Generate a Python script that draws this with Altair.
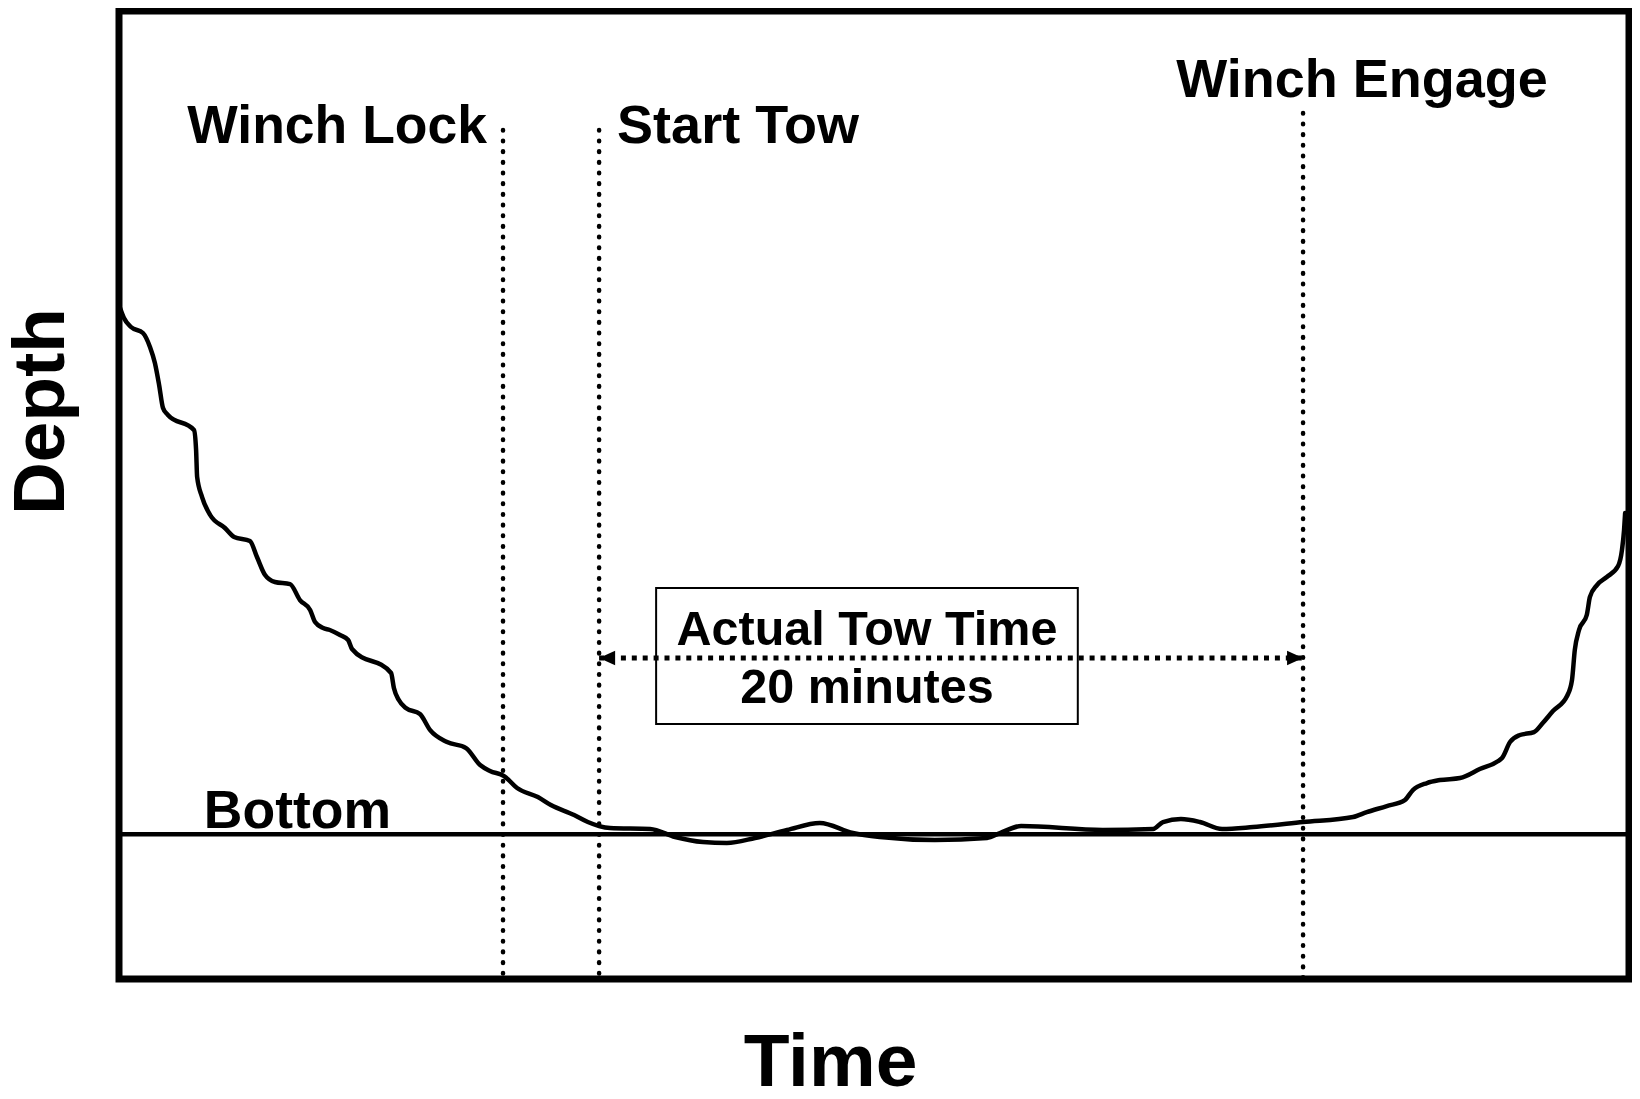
import altair as alt
import pandas as pd

# ---------------- data (time in minutes, depth in arbitrary units; bottom = 100) ----------------
CURVE_TIME = [0.03, 0.14, 0.34, 0.68, 0.88, 1.02, 1.14, 1.25, 1.39, 2.13, 2.19, 2.22, 2.36, 2.59,
              3.01, 3.27, 3.72, 3.92, 4.15, 4.43, 4.86, 5.14, 5.43, 5.57, 5.80, 5.99, 6.28, 6.51,
              6.62, 7.73, 7.81, 7.95, 8.15, 8.55, 8.84, 9.32, 9.86, 10.26, 10.54, 10.94, 11.31,
              11.90, 12.27, 12.93, 13.32, 13.64, 13.95, 15.09, 15.80, 16.59, 17.27, 18.07, 18.98,
              19.91, 20.85, 21.62, 23.18, 24.66, 25.03, 25.63, 27.95, 29.38, 29.66, 30.17, 30.71,
              31.34, 32.22, 33.64, 35.06, 35.45, 36.02, 36.53, 36.76, 37.16, 37.53, 38.10, 38.66,
              39.29, 39.52, 39.80, 40.20, 40.45, 40.74, 41.14, 41.28, 41.36, 41.48, 41.70, 41.79,
              41.99, 42.27, 42.59, 42.70, 42.76, 42.79]
CURVE_DEPTH = [36.08, 37.30, 38.39, 39.12, 40.82, 42.77, 45.44, 48.23, 49.08, 50.91, 53.33, 56.62,
               59.05, 61.23, 62.81, 63.90, 64.39, 66.33, 68.52, 69.37, 69.62, 71.56, 72.77, 74.23,
               74.96, 75.20, 75.81, 76.42, 77.51, 80.43, 82.25, 83.71, 84.68, 85.41, 87.36, 88.81,
               89.54, 91.61, 92.33, 92.94, 94.40, 95.49, 96.46, 97.68, 98.53, 99.02, 99.26, 99.38,
               100.35, 100.96, 101.08, 100.47, 99.50, 98.65, 99.87, 100.35, 100.72, 100.47, 99.87,
               99.02, 99.50, 99.38, 98.53, 98.17, 98.53, 99.38, 99.14, 98.53, 97.92, 97.32, 96.59,
               95.86, 94.64, 93.79, 93.43, 93.19, 92.09, 90.76, 88.81, 87.96, 87.60, 86.50, 85.05,
               83.22, 81.28, 77.63, 75.20, 73.38, 71.19, 69.74, 68.76, 67.43, 65.48, 63.05, 60.99]

EVENT_NAMES = ["Winch Lock", "Start Tow", "Winch Engage"]
EVENT_TIMES = [10.91, 13.64, 33.64]
EVENT_LINE_TOP = [14.46, 14.46, 12.39]
EVENT_LABEL_DEPTH = [16.04, 16.04, 10.45]

BOTTOM_LABEL = "Bottom"
BOTTOM_DEPTH = 100.0
BOTTOM_LABEL_TIME = 2.41
BOTTOM_LABEL_DEPTH = 99.26

TOW_START = 13.64
TOW_END = 33.64
ARROW_DEPTH = 78.61
BOX_TIME = [15.26, 27.24]
BOX_DEPTH = [70.10, 86.62]
BOX_LINES = ["Actual Tow Time", "20 minutes"]
BOX_LINE_TIME = [21.25, 21.25]
BOX_LINE_DEPTH = [77.03, 84.07]

TIME_DOMAIN = [0, 42.9]
DEPTH_DOMAIN = [0, 117.6]

# ---------------- layout / style ----------------
PLOT_W, PLOT_H = 1510, 968
FONT = "Liberation Sans"

x_enc = alt.X(
    "t:Q",
    scale=alt.Scale(domain=TIME_DOMAIN, nice=False, zero=False),
    axis=alt.Axis(title="Time", domain=False, ticks=False, labels=False, grid=False,
                  titleFont=FONT, titleFontSize=75, titleFontWeight="bold", titleColor="black",
                  titleX=711, titleY=106, titleAlign="center", titleBaseline="alphabetic"),
)
y_enc = alt.Y(
    "d:Q",
    scale=alt.Scale(domain=DEPTH_DOMAIN, reverse=True, nice=False, zero=False),
    axis=alt.Axis(title="Depth", domain=False, ticks=False, labels=False, grid=False,
                  titleFont=FONT, titleFontSize=73, titleFontWeight="bold", titleColor="black",
                  titleAngle=270, titleX=-56, titleY=400, titleAlign="center",
                  titleBaseline="alphabetic"),
)

curve_df = pd.DataFrame({"t": CURVE_TIME, "d": CURVE_DEPTH})
curve = alt.Chart(curve_df).mark_line(
    color="black", strokeWidth=4.5, interpolate="monotone", strokeJoin="round", strokeCap="round"
).encode(x=x_enc, y=y_enc)

bottom = alt.Chart(pd.DataFrame({"d": [BOTTOM_DEPTH]})).mark_rule(
    color="black", strokeWidth=4.5
).encode(y=y_enc)

events_df = pd.DataFrame({"t": EVENT_TIMES, "d": EVENT_LINE_TOP, "name": EVENT_NAMES})
event_rules = alt.Chart(events_df).mark_rule(
    color="black", strokeWidth=4.5, strokeDash=[0.6, 10.07], strokeCap="round"
).encode(x=x_enc, y=y_enc, y2=alt.value(PLOT_H))

arrow_df = pd.DataFrame({"t": [TOW_START], "t2": [TOW_END], "d": [ARROW_DEPTH]})
arrow = alt.Chart(arrow_df).mark_rule(
    color="black", strokeWidth=5, strokeDash=[5, 5.9]
).encode(x=x_enc, x2="t2:Q", y=y_enc)

head_left = alt.Chart(pd.DataFrame({"t": [TOW_START], "d": [ARROW_DEPTH]})).mark_point(
    shape="M0,0L2,-0.9L2,0.9Z", size=256, filled=True, color="black", opacity=1, strokeWidth=0
).encode(x=x_enc, y=y_enc)
head_right = alt.Chart(pd.DataFrame({"t": [TOW_END], "d": [ARROW_DEPTH]})).mark_point(
    shape="M0,0L-2,-0.9L-2,0.9Z", size=256, filled=True, color="black", opacity=1, strokeWidth=0
).encode(x=x_enc, y=y_enc)

box_df = pd.DataFrame({"t": [BOX_TIME[0]], "t2": [BOX_TIME[1]],
                       "d": [BOX_DEPTH[0]], "d2": [BOX_DEPTH[1]]})
box = alt.Chart(box_df).mark_rect(
    fill="white", fillOpacity=0, stroke="black", strokeWidth=2
).encode(x=x_enc, x2="t2:Q", y=y_enc, y2="d2:Q")


def text_layer(times, depths, labels, align, dx, size):
    df = pd.DataFrame({"t": times, "d": depths, "label": labels})
    return alt.Chart(df).mark_text(
        align=align, baseline="alphabetic", dx=dx, font=FONT, fontSize=size,
        fontWeight="bold", color="black"
    ).encode(x=x_enc, y=y_enc, text="label:N")


lbl_lock = text_layer([EVENT_TIMES[0]], [EVENT_LABEL_DEPTH[0]], [EVENT_NAMES[0]], "right", -16, 53.5)
lbl_start = text_layer([EVENT_TIMES[1]], [EVENT_LABEL_DEPTH[1]], [EVENT_NAMES[1]], "left", 18, 54)
lbl_engage = text_layer([EVENT_TIMES[2]], [EVENT_LABEL_DEPTH[2]], [EVENT_NAMES[2]], "center", 59, 54)
lbl_bottom = text_layer([BOTTOM_LABEL_TIME], [BOTTOM_LABEL_DEPTH], [BOTTOM_LABEL], "left", 0, 53.5)
lbl_box = text_layer(BOX_LINE_TIME, BOX_LINE_DEPTH, BOX_LINES, "center", 0, 48.5)

chart = alt.layer(
    bottom, event_rules, arrow, box, curve, head_left, head_right,
    lbl_lock, lbl_start, lbl_engage, lbl_bottom, lbl_box
).properties(
    width=PLOT_W,
    height=PLOT_H,
    autosize=alt.AutoSizeParams(type="none"),
    padding={"left": 111, "top": 3, "right": 3, "bottom": 108},
    background="white",
).configure_view(stroke="black", strokeWidth=7)

chart.save("out.html", embed_options={"renderer": "svg", "actions": False})
